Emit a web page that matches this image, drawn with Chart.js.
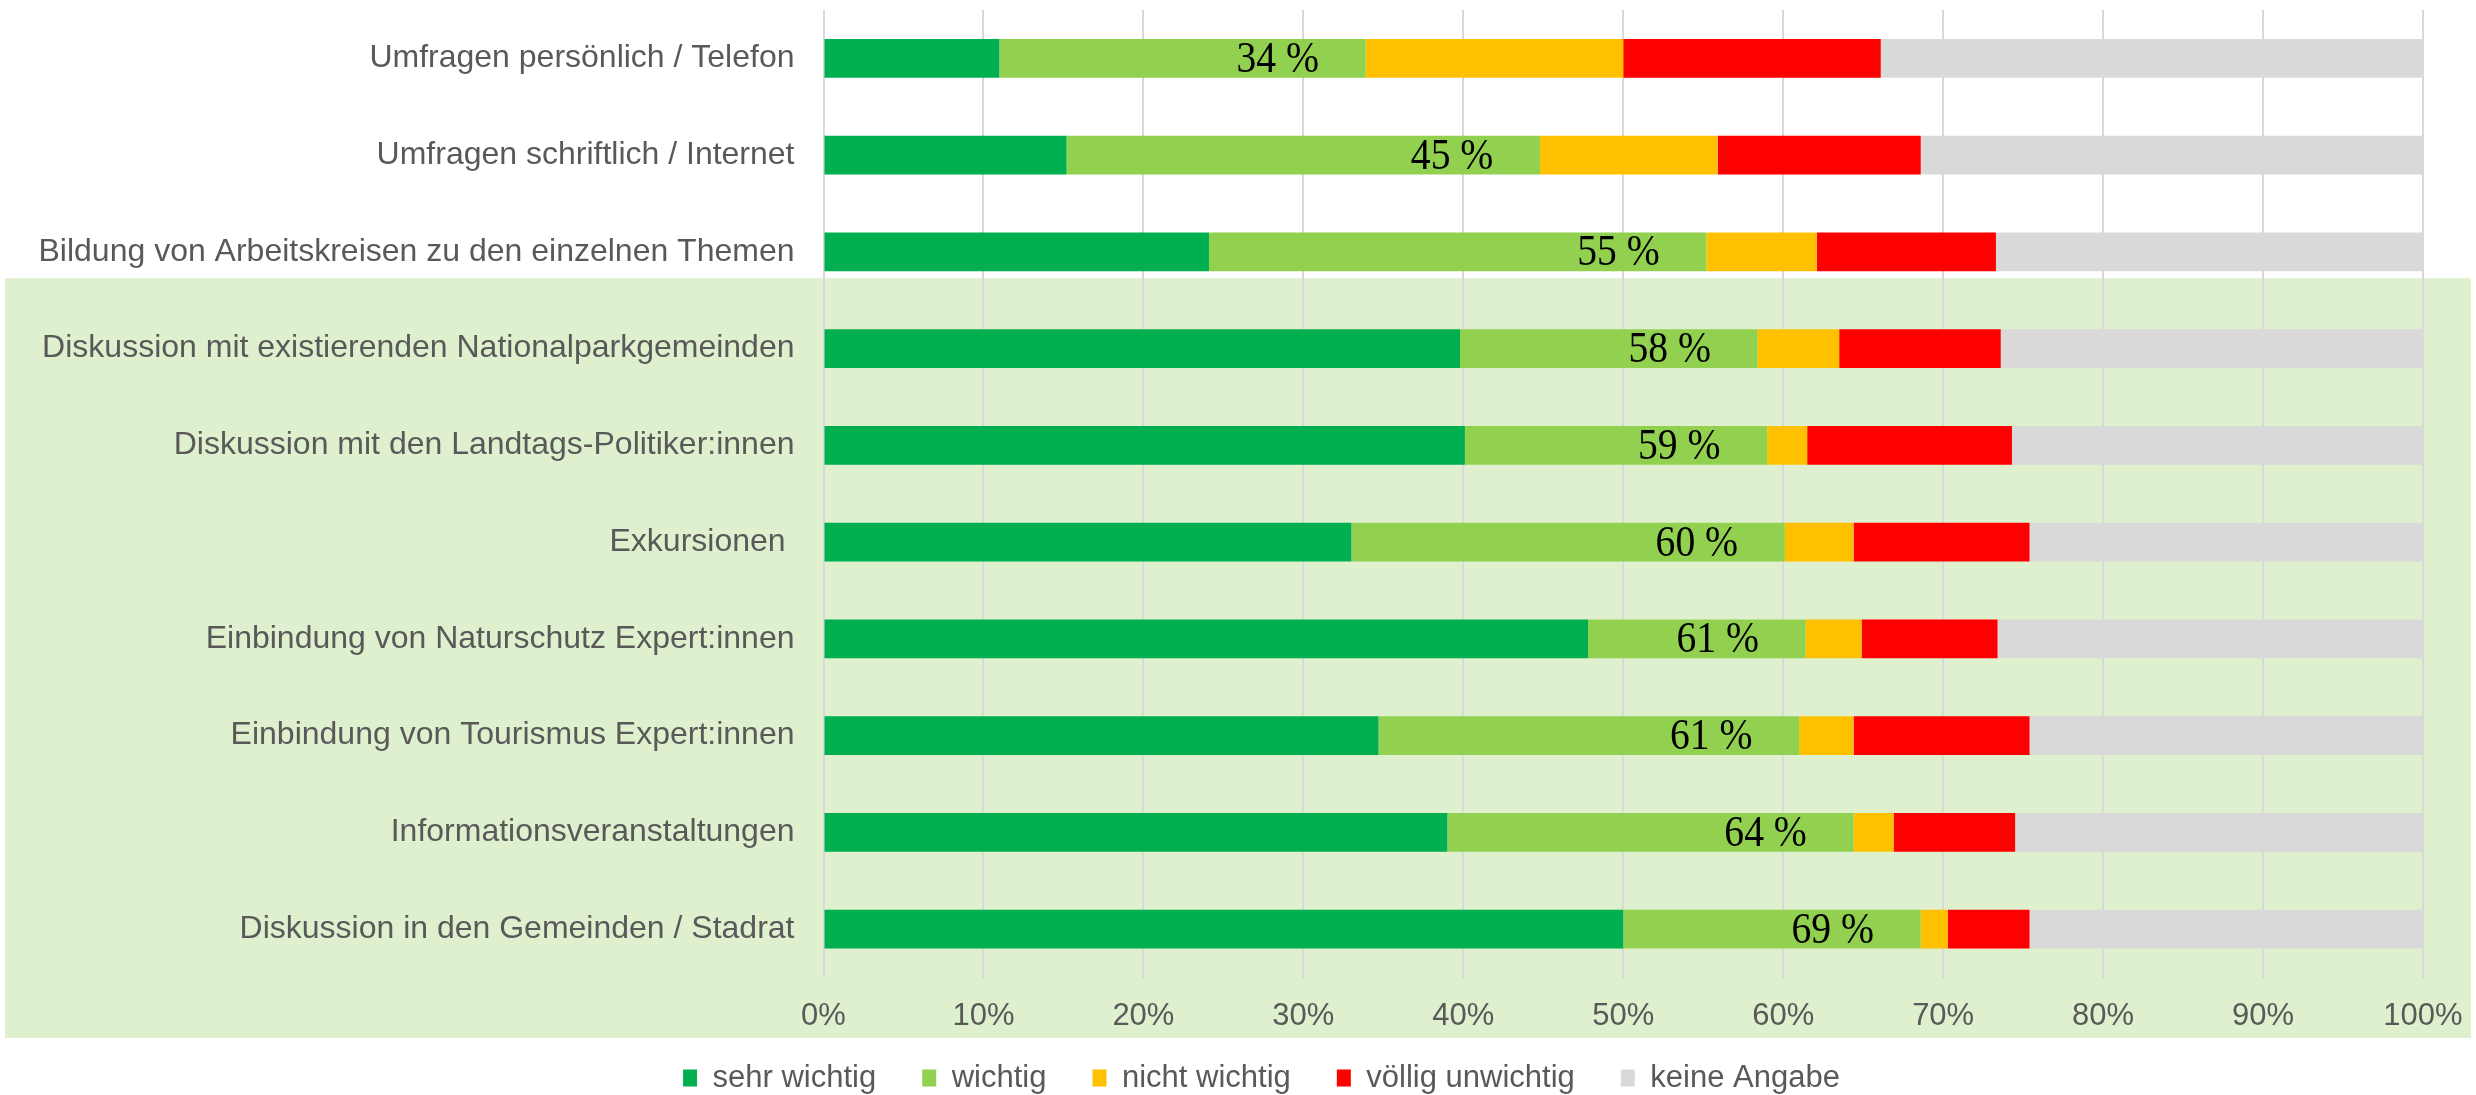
<!DOCTYPE html>
<html>
<head>
<meta charset="utf-8">
<script src="https://cdn.jsdelivr.net/npm/chart.js@4/dist/chart.umd.min.js"></script>
<style>
  body { margin: 0; background: #fff; }
  #chart { display: block; }
</style>
</head>
<body>
<canvas id="chart" width="2476" height="1095"></canvas>
<script>
// categories, top to bottom
const categories = [
  "Umfragen persönlich / Telefon",
  "Umfragen schriftlich / Internet",
  "Bildung von Arbeitskreisen zu den einzelnen Themen",
  "Diskussion mit existierenden Nationalparkgemeinden",
  "Diskussion mit den Landtags-Politiker:innen",
  "Exkursionen ",
  "Einbindung von Naturschutz Expert:innen",
  "Einbindung von Tourismus Expert:innen",
  "Informationsveranstaltungen",
  "Diskussion in den Gemeinden / Stadrat"
];

// shares in percent
const sehrWichtig     = [11.0, 15.2, 24.1, 39.8, 40.1, 33.0, 47.8, 34.7, 39.0, 50.0];
const wichtig         = [22.9, 29.6, 31.1, 18.6, 18.9, 27.1, 13.6, 26.3, 25.4, 18.6];
const nichtWichtig    = [16.1, 11.1,  6.9,  5.1,  2.5,  4.3,  3.5,  3.4,  2.5,  1.7];
const voelligUnwichtig= [16.1, 12.7, 11.2, 10.1, 12.8, 11.0,  8.5, 11.0,  7.6,  5.1];
const keineAngabe     = [33.9, 31.4, 26.7, 26.4, 25.7, 24.6, 26.6, 24.6, 25.5, 24.6];

const xTicks = [0, 10, 20, 30, 40, 50, 60, 70, 80, 90, 100];

const seriesNames = ["sehr wichtig", "wichtig", "nicht wichtig", "völlig unwichtig", "keine Angabe"];
const seriesColors = ["#00B050", "#92D050", "#FFC000", "#FF0000", "#D9D9D9"];
const seriesData = [sehrWichtig, wichtig, nichtWichtig, voelligUnwichtig, keineAngabe];

const sansFont = "'Liberation Sans', Arial, sans-serif";
const textGray = "#595959";

// light green background block behind the lower rows
const bandPlugin = {
  id: "band",
  afterLayout(chart) {
    // legend in the original sits a bit right of the canvas centre,
    // and closer to the axis labels than chart.js would put it
    const lg = chart.legend;
    lg.left = 50;
    lg.right = chart.width - 3;
    lg.top = chart.height - 78.5;
    lg.bottom = chart.height;
  },
  beforeDraw(chart) {
    const ctx = chart.ctx;
    const y = chart.scales.y;
    const top = (y.getPixelForValue(2) + y.getPixelForValue(3)) / 2 - 22;
    ctx.save();
    ctx.fillStyle = "#DFF0CE";
    ctx.fillRect(5, top, chart.width - 10, chart.height - 57 - top);
    ctx.restore();
  }
};

// "xx %" labels = sehr wichtig + wichtig
const sumLabels = {
  id: "sumLabels",
  afterDatasetsDraw(chart) {
    const ctx = chart.ctx;
    const x = chart.scales.x, y = chart.scales.y;
    ctx.save();
    ctx.font = "44px 'Liberation Serif', 'Times New Roman', serif";
    ctx.fillStyle = "#000";
    ctx.textAlign = "center";
    ctx.textBaseline = "middle";
    categories.forEach((c, i) => {
      const total = sehrWichtig[i] + wichtig[i];
      ctx.save();
      ctx.translate(x.getPixelForValue(total - 5.5), y.getPixelForValue(i) + 2);
      ctx.scale(0.9, 1);
      ctx.fillText(Math.round(total) + " %", 0, 0);
      ctx.restore();
    });
    ctx.restore();
  }
};

new Chart(document.getElementById("chart"), {
  type: "bar",
  data: {
    labels: categories,
    datasets: seriesNames.map((name, k) => ({
      label: name,
      data: seriesData[k],
      backgroundColor: seriesColors[k],
      borderWidth: 0,
      barPercentage: 0.4,
      categoryPercentage: 1.0
    }))
  },
  options: {
    indexAxis: "y",
    responsive: false,
    animation: false,
    layout: { padding: { left: 0, right: 53, top: 10, bottom: 0 } },
    scales: {
      x: {
        stacked: true,
        min: 0,
        max: 100,
        afterBuildTicks(scale) { scale.ticks = xTicks.map(v => ({ value: v })); },
        afterFit(scale) {
          scale.height = 64;
          scale.paddingLeft = 0;
          scale.paddingRight = 0;
        },
        grid: { color: "#D9D9D9", lineWidth: 2, drawTicks: false },
        border: { display: false },
        ticks: {
          padding: 20,
          color: textGray,
          font: { family: sansFont, size: 31 },
          callback: v => v + "%"
        }
      },
      y: {
        stacked: true,
        grid: { display: false, drawTicks: false },
        border: { display: false },
        afterFit(scale) {
          scale.width = 823.5;
          scale.paddingTop = 0;
          scale.paddingBottom = 0;
        },
        ticks: {
          padding: 29,
          color: textGray,
          font: { family: sansFont, size: 32 }
        }
      }
    },
    plugins: {
      legend: {
        position: "bottom",
        maxHeight: 53.5,
        labels: {
          boxWidth: 14,
          boxHeight: 17,
          padding: 46,
          color: textGray,
          font: { family: sansFont, size: 31 }
        }
      },
      tooltip: { enabled: false }
    }
  },
  plugins: [bandPlugin, sumLabels]
});
</script>
</body>
</html>
